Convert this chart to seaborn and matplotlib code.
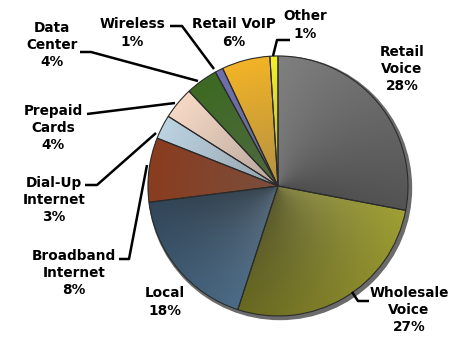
import numpy as np
import matplotlib
matplotlib.use("Agg")
import matplotlib.pyplot as plt
import seaborn as sns
from matplotlib.colors import to_rgb

# Revenue mix by segment (percent)
segments = ["Retail\nVoice", "Wholesale\nVoice", "Local", "Broadband\nInternet",
            "Dial-Up\nInternet", "Prepaid\nCards", "Data\nCenter", "Wireless",
            "Retail VoIP", "Other"]
shares = [28, 27, 18, 8, 3, 4, 4, 1, 6, 1]
colors = ["#808080", "#a0a033", "#4b6b87", "#8a3c1e", "#bcd3e2",
          "#f6d9c5", "#3d6a22", "#6f6fae", "#f2b326", "#f4f02a"]

W, H = 454, 347
sns.set_theme(style="white")
plt.rcParams["font.family"] = ["DejaVu Sans"]

fig = plt.figure(figsize=(W / 100, H / 100), dpi=100)
ax = fig.add_axes([0, 0, 1, 1])

cx, cy, r = 278, H - 186, 130

# soft rim shadow
shadow = plt.Circle((cx + 2, cy - 2), r + 1.5, color="#6b6b6b", zorder=1)
ax.add_patch(shadow)

wedges, _ = ax.pie(shares, colors=colors, startangle=90, counterclock=False,
                   center=(cx, cy), radius=r, frame=True,
                   wedgeprops=dict(edgecolor="#2b2b2b", linewidth=0.8))
ax.set_xlim(0, W)
ax.set_ylim(0, H)
ax.set_aspect("equal")
ax.axis("off")

# shading inside each slice: darker toward the hub and along the sweep
yy, xx = np.mgrid[0:H, 0:W]
dx = xx + 0.5 - cx
dy = yy + 0.5 - cy
dist = np.clip(np.sqrt(dx ** 2 + dy ** 2) / r, 0, 1)
ang = np.degrees(np.arctan2(dx, dy)) % 360  # clockwise from 12 o'clock
start = 0.0
for w, c, s in zip(wedges, colors, shares):
    span = s * 3.6
    frac = np.clip((ang - start) / span, 0, 1)
    start += span
    base = np.array(to_rgb(c))
    hub = base * 0.55 + np.array([0.40, 0.40, 0.40]) * 0.45
    t = dist[..., None]
    img = hub * (1 - t) + base * t
    img = img * (1.0 - 0.35 * frac[..., None] * (span > 60))
    im = ax.imshow(np.clip(img, 0, 1), extent=(0, W, 0, H), origin="lower",
                   zorder=2, interpolation="bilinear")
    im.set_clip_path(w)
    w.set_facecolor("none")
    w.set_zorder(3)
ax.set_xlim(0, W)
ax.set_ylim(0, H)

txt = dict(ha="center", va="center", fontsize=9.8, fontweight="bold",
           linespacing=1.3, color="black", zorder=5)

labels_pos = [(402, 69), (409, 310), (165, 302), (74, 273), (54, 200),
              (53, 128), (52, 45), (132, 33), (234, 33), (305, 25)]
for name, val, (x, y) in zip(segments, shares, labels_pos):
    ax.text(x, H - y, f"{name}\n{val}%", **txt)

# leader lines (pixel coordinates, y measured from the top)
leaders = [
    [(80, 52), (91, 52), (198, 81)],          # Data Center
    [(170, 26), (182, 26), (214, 69)],        # Wireless
    [(87, 114), (175, 103)],                  # Prepaid Cards
    [(85, 185), (97, 185), (156, 133)],       # Dial-Up Internet
    [(119, 259), (129, 259), (147, 165)],     # Broadband Internet
    [(352, 292), (358, 301), (369, 301)],     # Wholesale Voice
    [(273, 56), (277, 40), (290, 40)],        # Other
]
for pts in leaders:
    xs = [p[0] for p in pts]
    ys = [H - p[1] for p in pts]
    ax.plot(xs, ys, color="black", lw=1.8, zorder=4, solid_capstyle="butt")

fig.savefig("out.png", dpi=100)
